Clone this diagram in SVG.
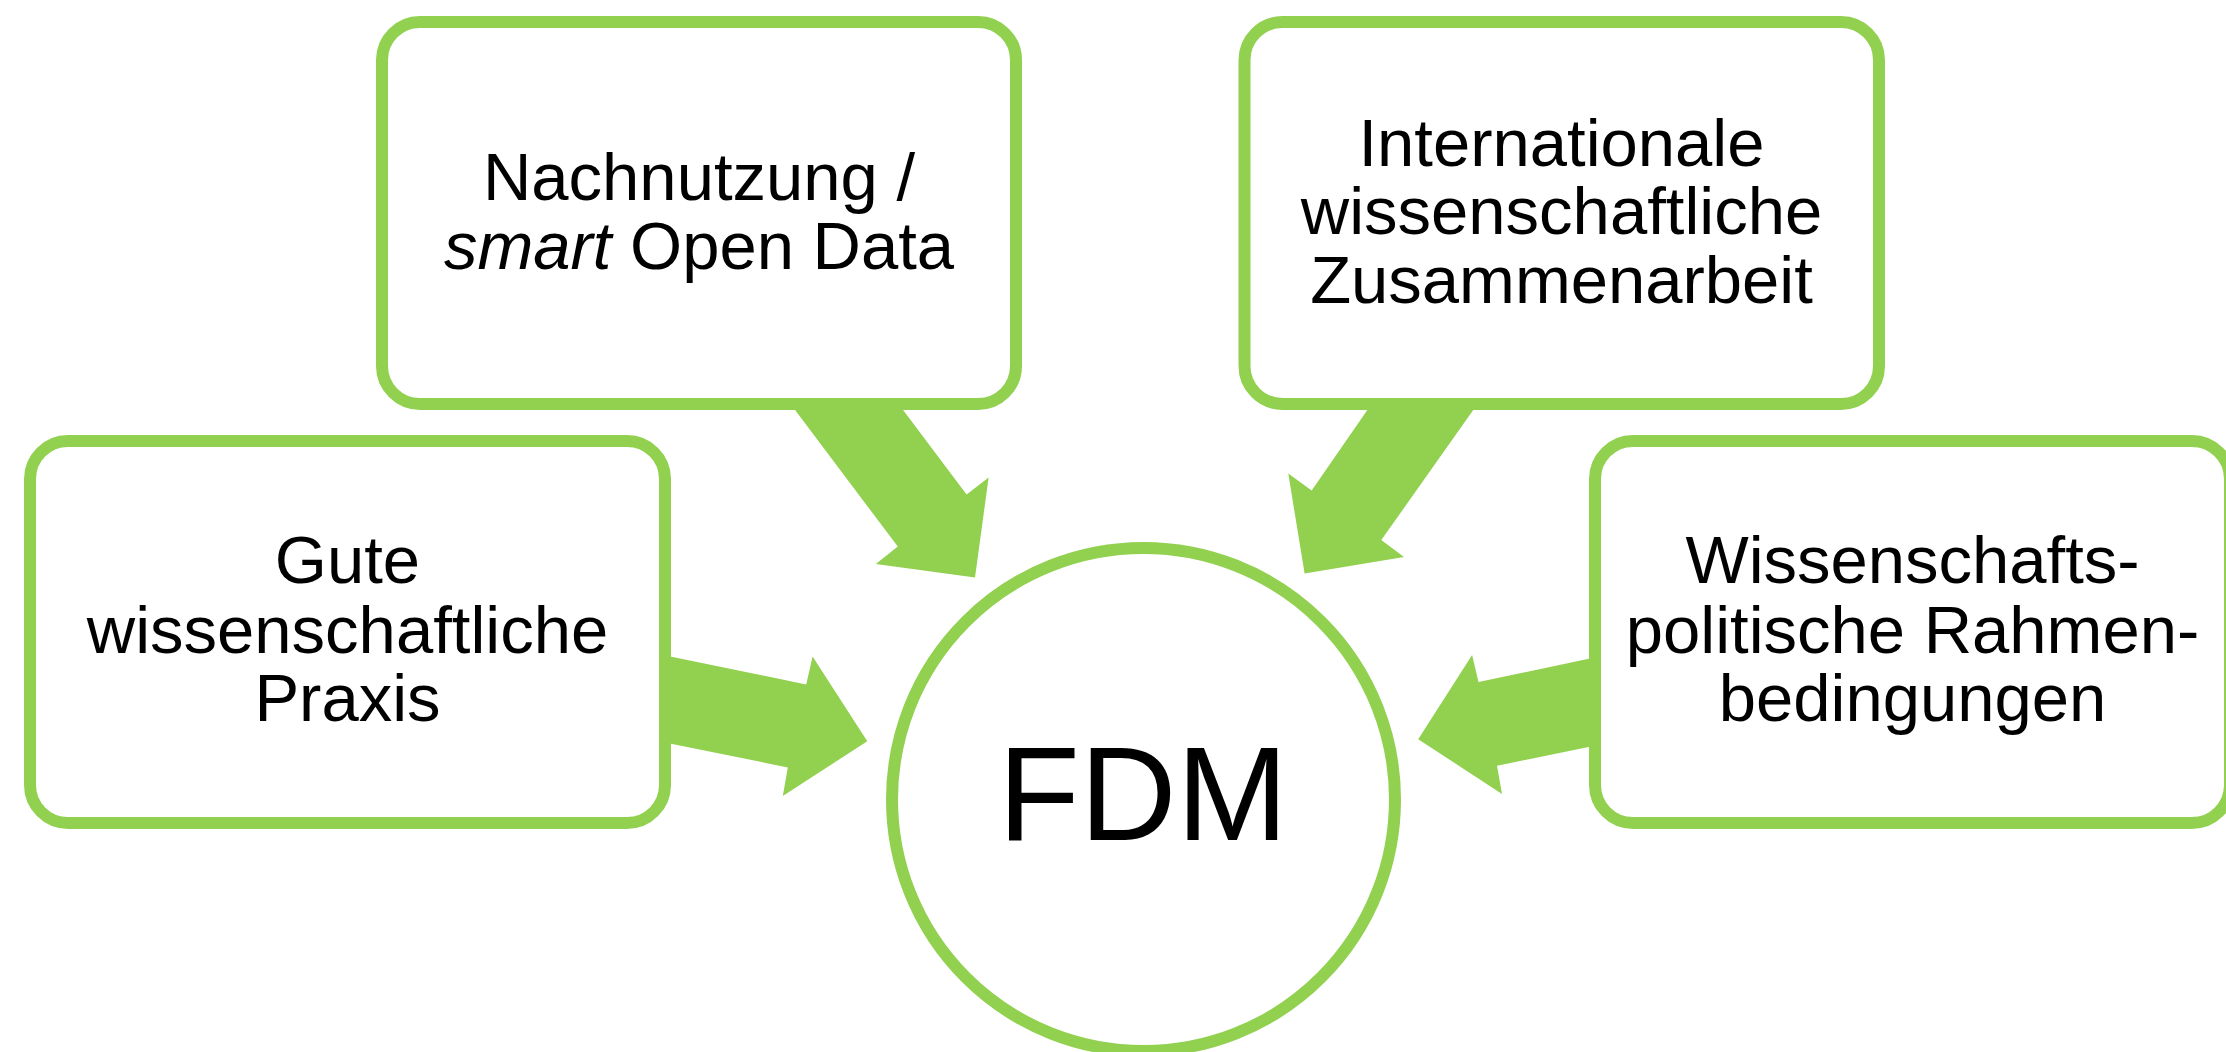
<svg xmlns="http://www.w3.org/2000/svg" width="2226" height="1052" viewBox="0 0 2226 1052">
  <style>
    .box { fill: #ffffff; stroke: #92D050; stroke-width: 12; }
    .arrow { fill: #92D050; stroke: none; }
    .lbl { font-family: "Liberation Sans", Arial, sans-serif; font-size: 67px; fill: #000000; text-anchor: middle; }
    .big { font-family: "Liberation Sans", Arial, sans-serif; font-size: 134px; fill: #000000; text-anchor: middle; }
  </style>
  <rect width="2226" height="1052" fill="#ffffff"/>
  <g id="connectors">
    <polygon class="arrow" points="765,370 873,370 966.6,494.6 988.6,477.6 975,577.6 875.8,563.9 897.8,546.6"/>
    <polygon class="arrow" points="1395,370 1501.5,370 1381.3,540.1 1404,557 1304.6,573.6 1288.3,473.6 1311.7,490.5"/>
    <polygon class="arrow" points="630,648.3 806.2,684.4 812.6,656.6 867.3,741.2 782.8,796 787.8,767.4 630,735.5"/>
    <polygon class="arrow" points="1630,650 1478.5,682 1472.1,655 1418.2,739.2 1502,794 1497,765.8 1630,738.5"/>
  </g>
  <g id="node-fdm">
    <circle class="box" cx="1143.5" cy="799.5" r="251.5"/>
    <text class="big" x="1143" y="840">FDM</text>
  </g>
  <g id="node-nachnutzung">
    <rect class="box" x="382" y="22" width="634" height="382" rx="38" ry="38"/>
    <text class="lbl" x="699" y="200">Nachnutzung /</text>
    <text class="lbl" x="699" y="268.5"><tspan font-style="italic">smart</tspan> Open Data</text>
  </g>
  <g id="node-international">
    <rect class="box" x="1244.5" y="22" width="634.5" height="382" rx="38" ry="38"/>
    <text class="lbl" x="1561.5" y="165.5">Internationale</text>
    <text class="lbl" x="1561.5" y="234">wissenschaftliche</text>
    <text class="lbl" x="1561.5" y="302.6">Zusammenarbeit</text>
  </g>
  <g id="node-gute">
    <rect class="box" x="30" y="441" width="635" height="382" rx="38" ry="38"/>
    <text class="lbl" x="347.5" y="583">Gute</text>
    <text class="lbl" x="347.5" y="652.5">wissenschaftliche</text>
    <text class="lbl" x="347.5" y="721">Praxis</text>
  </g>
  <g id="node-wissenschaftspolitik">
    <rect class="box" x="1595" y="441" width="635" height="382" rx="38" ry="38"/>
    <text class="lbl" x="1912.5" y="583">Wissenschafts-</text>
    <text class="lbl" x="1912.5" y="652.5">politische Rahmen-</text>
    <text class="lbl" x="1912.5" y="721">bedingungen</text>
  </g>
</svg>
